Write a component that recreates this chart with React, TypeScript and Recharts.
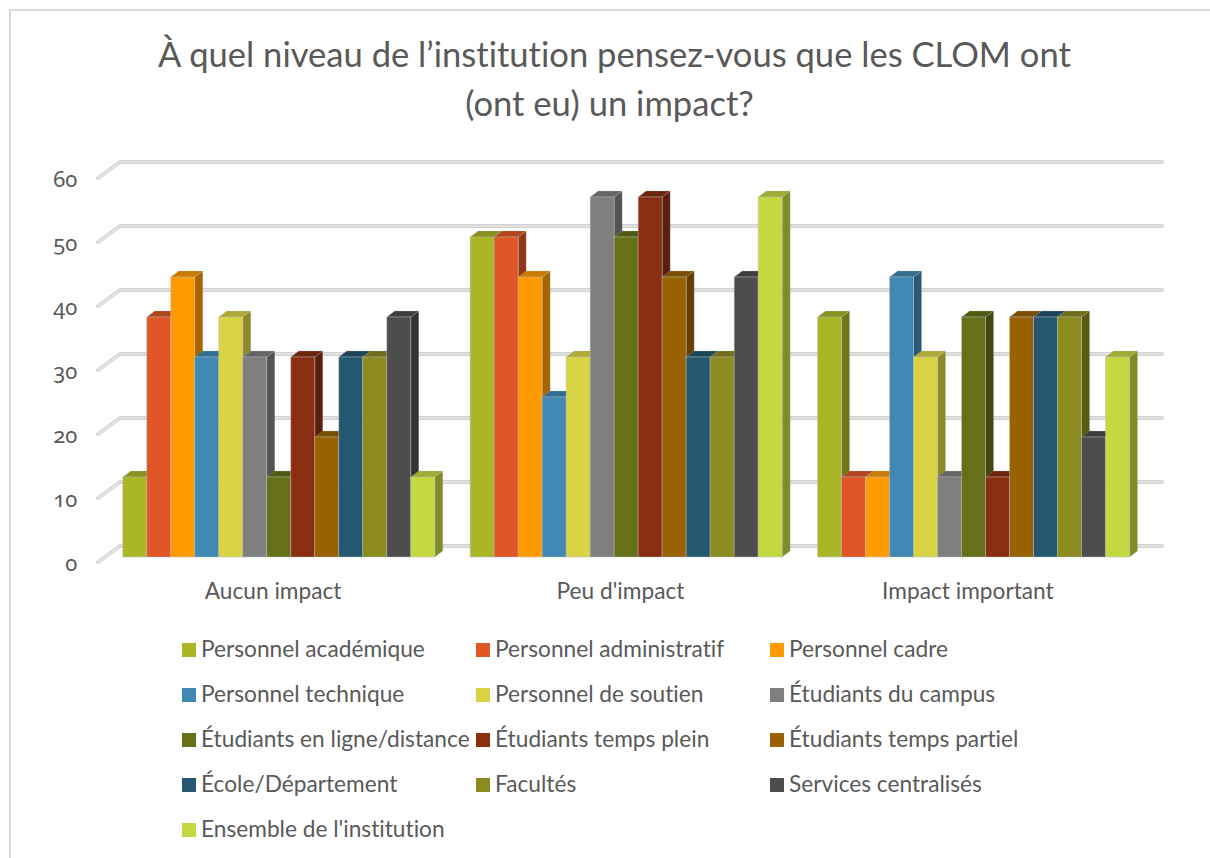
import React from 'react';
import { BarChart, Bar, XAxis, YAxis, CartesianGrid, Legend } from 'recharts';

const categories = ['Aucun impact', "Peu d'impact", 'Impact important'];

const academique = [12.5, 50, 37.5];
const administratif = [37.5, 50, 12.5];
const cadre = [43.75, 43.75, 12.5];
const technique = [31.25, 25, 43.75];
const soutien = [37.5, 31.25, 31.25];
const campus = [31.25, 56.25, 12.5];
const enLigne = [12.5, 50, 37.5];
const tempsPlein = [31.25, 56.25, 12.5];
const tempsPartiel = [18.75, 43.75, 37.5];
const ecole = [31.25, 31.25, 37.5];
const facultes = [31.25, 31.25, 37.5];
const services = [37.5, 43.75, 18.75];
const ensemble = [12.5, 56.25, 31.25];

const yTicks = [0, 10, 20, 30, 40, 50, 60];

const series = [
  { name: 'Personnel académique', color: '#A9B727', values: academique },
  { name: 'Personnel administratif', color: '#E05626', values: administratif },
  { name: 'Personnel cadre', color: '#FF9A00', values: cadre },
  { name: 'Personnel technique', color: '#3F89B4', values: technique },
  { name: 'Personnel de soutien', color: '#D9D443', values: soutien },
  { name: 'Étudiants du campus', color: '#7F7F7F', values: campus },
  { name: 'Étudiants en ligne/distance', color: '#657018', values: enLigne },
  { name: 'Étudiants temps plein', color: '#8A2E12', values: tempsPlein },
  { name: 'Étudiants temps partiel', color: '#996100', values: tempsPartiel },
  { name: 'École/Département', color: '#245770', values: ecole },
  { name: 'Facultés', color: '#8B8B1F', values: facultes },
  { name: 'Services centralisés', color: '#4D4D4D', values: services },
  { name: "Ensemble de l'institution", color: '#C4D83F', values: ensemble },
];

const chartData = categories.map((category, i) => {
  const row: Record<string, string | number> = { category };
  series.forEach((s) => {
    row[s.name] = s.values[i];
  });
  return row;
});

const FONT = 'Lato, "Open Sans", sans-serif';
const TEXT = '#595959';
const NO_LIGA = { fontVariantLigatures: 'none' as const };

// darken a hex colour for the side and top faces of the 3D bars
const shade = (hex: string, k: number) => {
  const n = parseInt(hex.slice(1), 16);
  const c = (v: number) => Math.round(v * k);
  return `rgb(${c((n >> 16) & 255)},${c((n >> 8) & 255)},${c(n & 255)})`;
};

const DX = 8;
const DY = 6;

const Bar3D = (props: any) => {
  const { x, y, width, height, fill } = props;
  if (!height) return null;
  const r = x + width;
  const b = y + height;
  return (
    <g>
      <polygon points={`${r},${y} ${r + DX},${y - DY} ${r + DX},${b - DY} ${r},${b}`} fill={shade(fill, 0.65)} stroke="rgba(190,190,190,0.4)" strokeWidth={0.6} />
      <polygon points={`${x},${y} ${x + DX},${y - DY} ${r + DX},${y - DY} ${r},${y}`} fill={shade(fill, 0.8)} stroke="rgba(190,190,190,0.4)" strokeWidth={0.6} />
      <rect x={x} y={y} width={width} height={height} fill={fill} stroke="rgba(190,190,190,0.6)" strokeWidth={0.8} />
    </g>
  );
};

// gridline with its little return towards the value axis
const gridLine = (props: any) => {
  const { x1, x2, y1, key } = props;
  const pts = `${x1 - 7.4},${y1 + 5} ${x1 + 14.6},${y1 - 11} ${x2 + 14.4},${y1 - 11}`;
  return (
    <g key={key}>
      <polyline points={pts} fill="none" stroke="#d2d2d2" strokeWidth={4} strokeLinecap="round" strokeLinejoin="round" />
      <polyline points={pts} fill="none" stroke="#e6e6e6" strokeWidth={1.6} strokeLinecap="round" strokeLinejoin="round" />
    </g>
  );
};

const LegendGrid = (props: any) => {
  const items = props.payload || [];
  return (
    <div style={{ position: 'relative', width: 1210, height: 230, fontFamily: FONT, fontSize: 22.7, color: TEXT, ...NO_LIGA }}>
      {items.map((item: any, i: number) => {
        const left = 182 + (i % 3) * 294;
        const top = 11 + Math.floor(i / 3) * 45;
        return (
          <div key={item.value} style={{ position: 'absolute', left, top, whiteSpace: 'nowrap' }}>
            <span style={{ position: 'absolute', left: 0, top: 0, width: 14, height: 14, background: item.color }} />
            <span style={{ position: 'absolute', left: 19, top: -7, lineHeight: '26px' }}>{item.value}</span>
          </div>
        );
      })}
    </div>
  );
};

export default function App() {
  return (
    <div style={{ position: 'absolute', left: 0, top: 0, width: 1210, height: 858, overflow: 'hidden', background: '#fff' }}>
      <div style={{ position: 'absolute', left: 9, top: 9, width: 1210, height: 858, borderLeft: '2px solid #d9d9d9', borderTop: '2px solid #d9d9d9' }} />
      <div style={{ position: 'absolute', left: 0, top: 29, width: 1229, textAlign: 'center', fontFamily: FONT, fontSize: 34.6, lineHeight: '49px', color: TEXT, ...NO_LIGA }}>
        À quel niveau de l’institution pensez-vous que les CLOM ont
        <br />
        <span style={{ position: 'relative', left: -5 }}>(ont eu) un impact?</span>
      </div>
      <BarChart
        width={1210}
        height={858}
        data={chartData}
        barGap={0}
        barCategoryGap="5%"
        margin={{ top: 173, right: 62.4, bottom: 267, left: 45.4 }}
        style={{ position: 'absolute', left: 0, top: 0 }}
      >
        <CartesianGrid vertical={false} horizontal={gridLine} />
        <XAxis
          dataKey="category"
          axisLine={false}
          tickLine={false}
          height={34}
          tickMargin={20}
          tick={{ fill: TEXT, fontSize: 22.7, fontFamily: FONT, dx: -6 }}
        />
        <YAxis
          width={60}
          domain={[0, 60]}
          ticks={yTicks}
          axisLine={false}
          tickLine={false}
          tickMargin={22}
          tick={{ fill: TEXT, fontSize: 22, fontFamily: '"Noto Sans", sans-serif', dy: 6, style: { fontFeatureSettings: '"onum" 1' } }}
        />
        <Legend
          layout="horizontal"
          align="center"
          verticalAlign="middle"
          itemSorter={null}
          content={<LegendGrid />}
          wrapperStyle={{ left: 0, top: 632, width: 1210 }}
        />
        {series.map((s) => (
          <Bar key={s.name} dataKey={s.name} fill={s.color} shape={<Bar3D />} isAnimationActive={false} />
        ))}
      </BarChart>
    </div>
  );
}
